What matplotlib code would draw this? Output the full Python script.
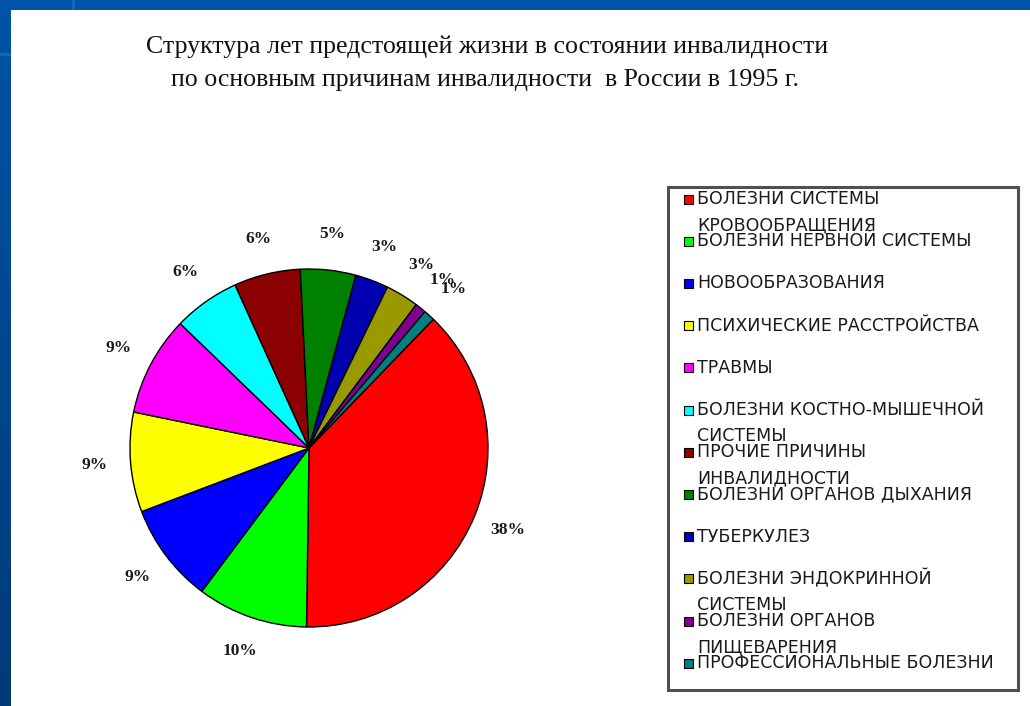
import matplotlib
matplotlib.use("Agg")
import matplotlib.pyplot as plt
import numpy as np
from matplotlib.patches import Rectangle
from matplotlib.colors import LinearSegmentedColormap

# ---- data ----
categories = [
    "БОЛЕЗНИ СИСТЕМЫ\nКРОВООБРАЩЕНИЯ",
    "БОЛЕЗНИ НЕРВНОЙ СИСТЕМЫ",
    "НОВООБРАЗОВАНИЯ",
    "ПСИХИЧЕСКИЕ РАССТРОЙСТВА",
    "ТРАВМЫ",
    "БОЛЕЗНИ КОСТНО-МЫШЕЧНОЙ\nСИСТЕМЫ",
    "ПРОЧИЕ ПРИЧИНЫ\nИНВАЛИДНОСТИ",
    "БОЛЕЗНИ ОРГАНОВ ДЫХАНИЯ",
    "ТУБЕРКУЛЕЗ",
    "БОЛЕЗНИ ЭНДОКРИННОЙ\nСИСТЕМЫ",
    "БОЛЕЗНИ ОРГАНОВ\nПИЩЕВАРЕНИЯ",
    "ПРОФЕССИОНАЛЬНЫЕ БОЛЕЗНИ",
]
values = [38, 10, 9, 9, 9, 6, 6, 5, 3, 3, 1, 1]
colors = ["#FF0000", "#00FF00", "#0000FF", "#FFFF00", "#FF00FF", "#00FFFF",
          "#8B0000", "#008000", "#0000B0", "#999900", "#800090", "#008080"]
title_lines = ["Структура лет предстоящей жизни в состоянии инвалидности",
               "по основным причинам инвалидности  в России в 1995 г."]

W, H = 1030, 706
fig = plt.figure(figsize=(W / 100, H / 100), dpi=100)
fig.patch.set_facecolor("white")

# ---- slide background (blue frame) ----
bg = fig.add_axes([0, 0, 1, 1])
bg.axis("off")
grad = np.linspace(0, 1, 100).reshape(-1, 1)
cmap = LinearSegmentedColormap.from_list("blu", ["#0053A6", "#003A78"])
bg.imshow(grad, extent=(0, 11, H, 0), cmap=cmap, aspect="auto", zorder=1)
bg.add_patch(Rectangle((0, 0), W, 10, color="#0053A6", zorder=2, lw=0))
bg.add_patch(Rectangle((72, 0), 3, 10, color="#1466BC", zorder=3, lw=0))
bg.add_patch(Rectangle((0, 53), 11, 3, color="#1466BC", zorder=3, lw=0))
bg.set_xlim(0, W)
bg.set_ylim(H, 0)

# ---- title ----
fig.text(487 / W, 1 - 47 / H, title_lines[0], ha="center", va="center",
         fontsize=18.6, family="Liberation Serif", color="#111111")
fig.text(485 / W, 1 - 80 / H, title_lines[1], ha="center", va="center",
         fontsize=18.6, family="Liberation Serif", color="#111111")

# ---- pie ----
cx, cy, r = 309, 448, 179
lim = 1.3
side = 2 * lim * r
ax = fig.add_axes([(cx - side / 2) / W, (H - cy - side / 2) / H, side / W, side / H])
wedges, texts, autotexts = ax.pie(
    values, colors=colors, startangle=46, counterclock=False,
    autopct="%.0f%%", pctdistance=1.2,
    wedgeprops=dict(edgecolor="black", linewidth=1.0),
    textprops=dict(fontsize=12.5, fontweight="bold", family="Liberation Serif", color="#1a1a1a"),
)
ax.set_xlim(-lim, lim)
ax.set_ylim(-lim, lim)
ax.set_aspect("equal")

# ---- legend (manual, Excel style) ----
lg = fig.add_axes([0, 0, 1, 1], facecolor="none")
lg.set_xlim(0, W)
lg.set_ylim(H, 0)
lg.axis("off")
lg.add_patch(Rectangle((668, 187), 350, 503, facecolor="white", edgecolor="#505050", lw=2.2))
y0, step = 199, 42.2
for i, (lab, col) in enumerate(zip(categories, colors)):
    y = y0 + i * step
    lg.add_patch(Rectangle((684, y - 4.5), 9, 9, facecolor=col, edgecolor="black", lw=0.8))
    first, *rest = lab.split("\n")
    lg.text(697, y, first, ha="left", va="center", fontsize=12.5,
            family="DejaVu Sans", color="#1a1a1a")
    for j, line in enumerate(rest):
        lg.text(697, y + 26 * (j + 1), line, ha="left", va="center", fontsize=12.5,
                family="DejaVu Sans", color="#1a1a1a")

fig.savefig("out.png", dpi=100, facecolor=fig.get_facecolor())
